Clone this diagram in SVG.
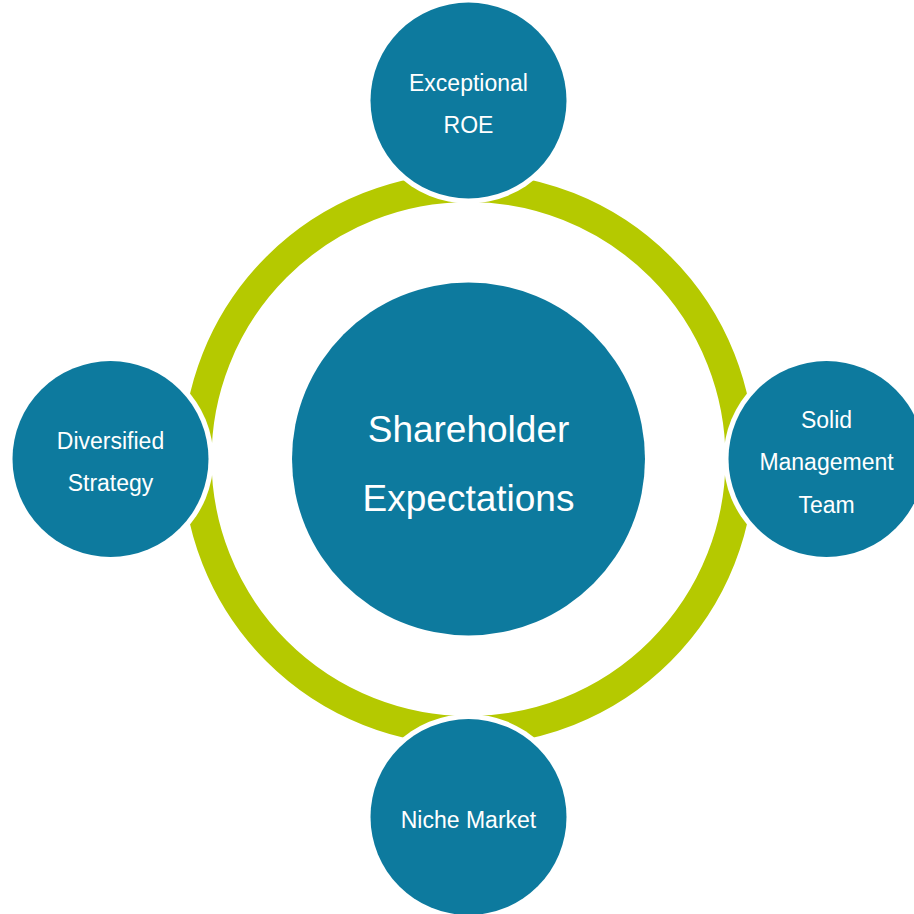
<svg xmlns="http://www.w3.org/2000/svg" width="914" height="914" viewBox="0 0 914 914">
  <style>
    .ring { fill: none; stroke: #B5C900; stroke-width: 29; }
    .halo { fill: #FFFFFF; }
    .node { fill: #0D7A9E; }
    .lbl { font-family: "Liberation Sans", Arial, sans-serif; fill: #FFFFFF; text-anchor: middle; font-size: 23px; }
    .big { font-size: 37px; }
  </style>
  <rect width="914" height="914" fill="#FFFFFF"/>
  <g id="connectors">
    <circle class="ring" cx="468.5" cy="459" r="271.5"/>
  </g>
  <g id="center">
    <circle class="node" cx="468.5" cy="459" r="176.5"/>
    <text class="lbl big" x="468.5" y="442">Shareholder</text>
    <text class="lbl big" x="468.5" y="511">Expectations</text>
  </g>
  <g id="top">
    <circle class="halo" cx="468.5" cy="100.5" r="103"/>
    <circle class="node" cx="468.5" cy="100.5" r="98"/>
    <text class="lbl" x="468.5" y="90.5">Exceptional</text>
    <text class="lbl" x="468.5" y="132.5">ROE</text>
  </g>
  <g id="left">
    <circle class="halo" cx="110.5" cy="459" r="103"/>
    <circle class="node" cx="110.5" cy="459" r="98"/>
    <text class="lbl" x="110.5" y="448.5">Diversified</text>
    <text class="lbl" x="110.5" y="491">Strategy</text>
  </g>
  <g id="right">
    <circle class="halo" cx="826.5" cy="459" r="103"/>
    <circle class="node" cx="826.5" cy="459" r="98"/>
    <text class="lbl" x="826.5" y="427.5">Solid</text>
    <text class="lbl" x="826.5" y="470">Management</text>
    <text class="lbl" x="826.5" y="512.5">Team</text>
  </g>
  <g id="bottom">
    <circle class="halo" cx="468.5" cy="817" r="103"/>
    <circle class="node" cx="468.5" cy="817" r="98"/>
    <text class="lbl" x="468.5" y="827.5">Niche Market</text>
  </g>
</svg>
